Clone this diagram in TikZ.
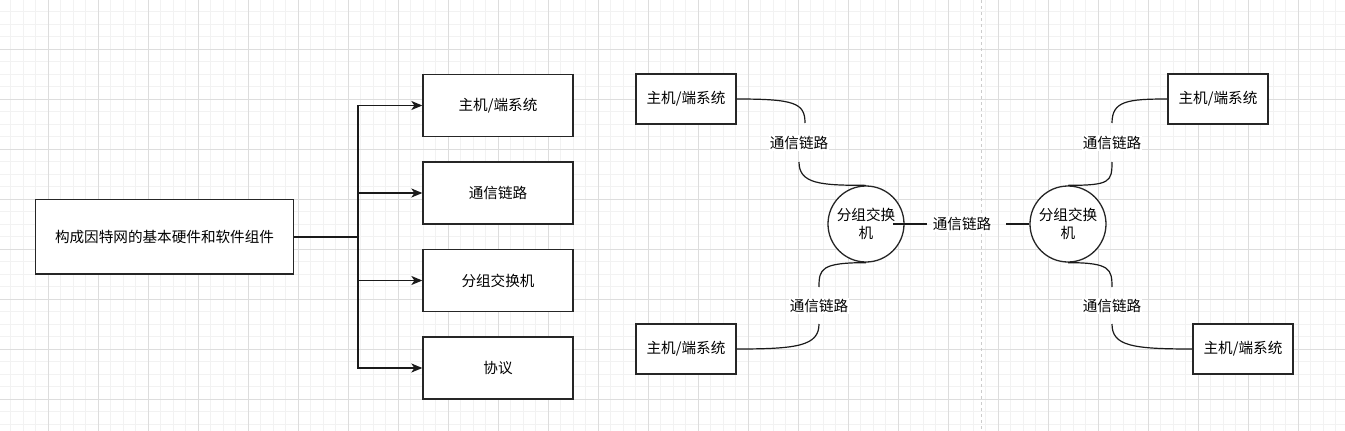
\documentclass[tikz,border=0pt]{standalone}
\usepackage{fontspec}
\setmainfont{Noto Sans CJK SC}
\usetikzlibrary{arrows.meta,calc}
\definecolor{gridminor}{HTML}{F2F2F2}
\definecolor{gridmajor}{HTML}{DDDDDD}
\definecolor{edgecol}{HTML}{1A1A1A}
\begin{document}
\begin{tikzpicture}[x=1pt,y=-1pt,
  font=\fontsize{14.6pt}{18pt}\selectfont,
  minorline/.style={draw=gridminor,line width=1pt},
  majorline/.style={draw=gridmajor,line width=1pt},
  box/.style={draw=black!85,line width=1.3pt,fill=white,rectangle,inner sep=0pt},
  bigbox/.style={box,minimum width=150pt,minimum height=62pt},
  hostbox/.style={box,minimum width=100pt,minimum height=50pt},
  switch/.style={draw=black!85,line width=1.3pt,fill=white,circle,minimum size=76pt,inner sep=0pt,align=center},
  linklabel/.style={fill=white,inner sep=1pt},
  link/.style={draw=edgecol,line width=1.2pt},
  arr/.style={draw=edgecol,line width=1.3pt,-{Stealth[length=11pt,width=9pt,inset=3pt]}}
]
\useasboundingbox (0,0) rectangle (1345,431);
\fill[white] (0,0) rectangle (1345,431);
% grid
\foreach \k in {0,...,108} { \draw[minorline] ({-1.7+12.5*\k},0) -- ++(0,431); }
\foreach \k in {0,...,35} { \draw[minorline] (0,{-0.8+12.5*\k}) -- ++(1345,0); }
\foreach \k in {0,...,27} { \draw[majorline] ({-1.7+50*\k},0) -- ++(0,431); }
\foreach \k in {0,...,9} { \draw[majorline] (0,{-0.8+50*\k}) -- ++(1345,0); }
% dashed separator
\draw[draw=gray!40,line width=1.2pt,dash pattern=on 3pt off 3pt] (981.7,0) -- (981.7,431);

% left tree
\node[box,minimum width=257.6pt,minimum height=74.7pt] (root) at (164.5,236.7) {构成因特网的基本硬件和软件组件};
\node[bigbox] (b1) at (498,105.5) {主机/端系统};
\node[bigbox] (b2) at (498,193) {通信链路};
\node[bigbox] (b3) at (498,280.5) {分组交换机};
\node[bigbox] (b4) at (498,368) {协议};
\coordinate (tr) at (358,236.7);
\draw[draw=edgecol,line width=2.2pt] (root.east) -- (tr);
\draw[arr] (tr) |- (b1.west);
\draw[arr] (tr) |- (b2.west);
\draw[arr] (tr) |- (b3.west);
\draw[arr] (tr) |- (b4.west);

% middle network
\node[hostbox] (h1) at (686,99) {主机/端系统};
\node[hostbox] (h2) at (686,349) {主机/端系统};
\node[switch] (s1) at (866,224) {分组交换\\机};
\node[linklabel] (l1) at (799,143) {通信链路};
\node[linklabel] (l2) at (819,306) {通信链路};
\node[linklabel] (lm) at (962,224) {通信链路};

% right network
\node[switch] (s2) at (1068,224) {分组交换\\机};
\node[hostbox] (h3) at (1218,99) {主机/端系统};
\node[hostbox] (h4) at (1243,349) {主机/端系统};
\node[linklabel] (r1) at (1112,143) {通信链路};
\node[linklabel] (r2) at (1112,306) {通信链路};

% connector end points around labels
\coordinate (l1t) at ($(l1)+(6,-20)$);
\coordinate (l1b) at ($(l1)+(0,19)$);
\coordinate (l2t) at ($(l2)+(0,-19)$);
\coordinate (l2b) at ($(l2)+(0,18)$);
\coordinate (r1t) at ($(r1)+(0,-20)$);
\coordinate (r1b) at ($(r1)+(0,19)$);
\coordinate (r2t) at ($(r2)+(0,-19)$);
\coordinate (r2b) at ($(r2)+(0,18)$);
\coordinate (s1r) at (893,224);
\coordinate (lmL) at (927,224);
\coordinate (lmR) at (1006,224);

% connectors
\draw[link] (h1.east) .. controls +(58,0) and +(0,-20) .. (l1t);
\draw[link] (l1b) .. controls +(0,22) and +(-45,0) .. (s1.north);
\draw[link] (s1.south) .. controls +(-45,0) and +(0,-18) .. (l2t);
\draw[link] (l2b) .. controls +(0,22) and +(60,0) .. (h2.east);
\draw[link] (s1r) -- (lmL);
\draw[link] (lmR) -- (s2.west);
\draw[link] (s2.north) .. controls +(42,0) and +(0,20) .. (r1b);
\draw[link] (r1t) .. controls +(0,-22) and +(-40,0) .. (h3.west);
\draw[link] (s2.south) .. controls +(42,0) and +(0,-18) .. (r2t);
\draw[link] (r2b) .. controls +(0,22) and +(-60,0) .. (h4.west);
\end{tikzpicture}
\end{document}
